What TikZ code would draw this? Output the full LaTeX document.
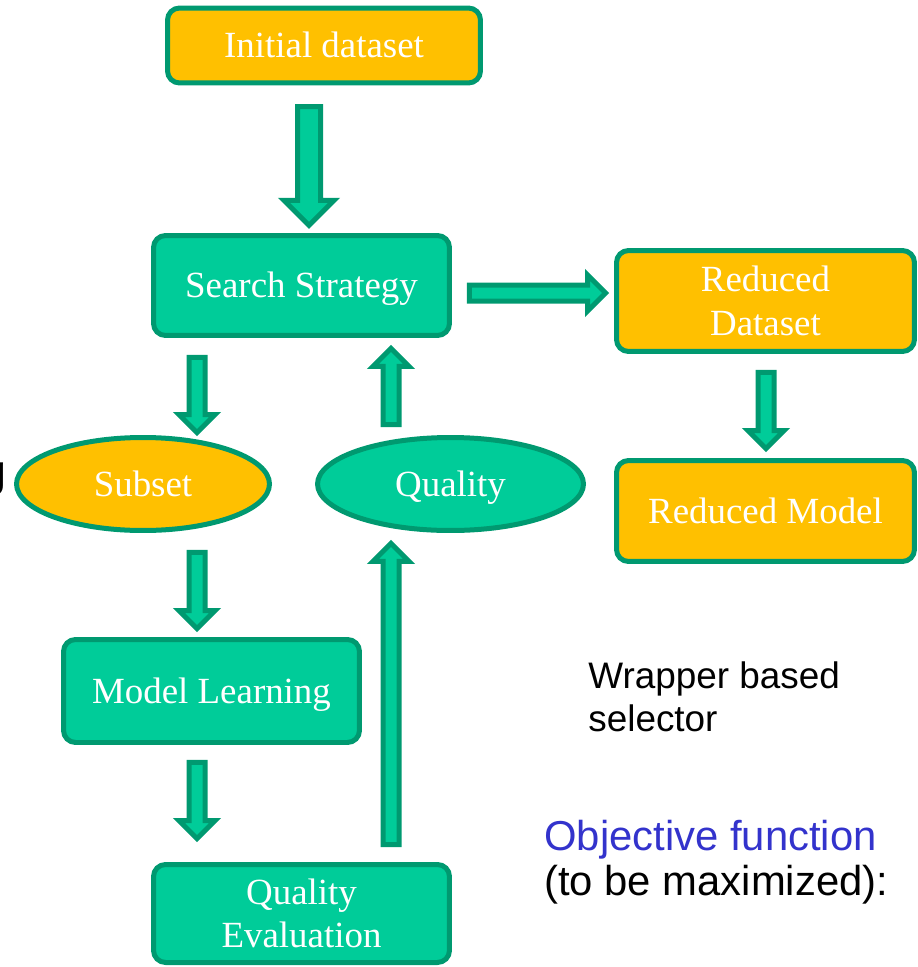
\documentclass[tikz,border=0pt]{standalone}
\usepackage{fontspec}
\setmainfont{Liberation Serif}
\setsansfont{Liberation Sans}
\usetikzlibrary{%
  shapes.geometric,% wg. ellipse
  shapes.arrows,%
  calc%
}

\definecolor{boxgold}{RGB}{255,192,0}
\definecolor{boxgreen}{RGB}{0,204,153}
\definecolor{edgegreen}{RGB}{0,153,112}
\definecolor{objblue}{RGB}{51,51,204}

\newcommand{\blockflow}[3][thinflow]{%
  \path let \p1=#2, \p2=#3, \n1={veclen(\x2-\x1,\y2-\y1)} in
    (\p1) -- (\p2) node[midway, sloped, allow upside down, #1, minimum height=\n1-2.8pt] {};}

\begin{document}
\begin{tikzpicture}
  [
  x=0.02cm, y=-0.02cm,
  box/.style={rectangle, rounded corners=0.24cm, draw=edgegreen, line width=0.1cm, text=white, align=center, inner sep=0pt, font=\fontsize{21pt}{24.7pt}\selectfont, text height=18.7pt, text depth=4.6pt},
  twolines/.style={text height=43.4pt},
  goldbox/.style={box, fill=boxgold},
  greenbox/.style={box, fill=boxgreen},
  oval/.style={ellipse, draw=edgegreen, line width=0.1cm, text=white, inner sep=0pt, font=\fontsize{21pt}{24.7pt}\selectfont, text height=18.7pt, text depth=4.6pt},
  thinflow/.style={single arrow, draw=edgegreen, fill=boxgreen, line width=0.1cm, inner xsep=0pt, inner ysep=0.11cm, single arrow head extend=0.2cm, outer sep=0pt},
  bigflow/.style={thinflow, inner ysep=0.18cm, single arrow head extend=0.27cm},
  note/.style={align=left, inner sep=0pt, font=\sffamily\fontsize{21pt}{24.4pt}\selectfont}
  ]
  \useasboundingbox (0,0) rectangle (918,967);

  \node[goldbox, minimum width=6.26cm, minimum height=1.5cm] (init) at (324,45.5) {Initial dataset};
  \node[greenbox, minimum width=5.92cm, minimum height=2cm] (search) at (301.5,285.5) {Search Strategy};
  \node[goldbox, twolines, minimum width=5.96cm, minimum height=2.02cm] (rdata) at (765.5,301) {Reduced\\Dataset};
  \node[goldbox, minimum width=5.96cm, minimum height=2.02cm] (rmodel) at (765.5,511) {Reduced Model};
  \node[oval, fill=boxgold, minimum width=5.06cm, minimum height=1.86cm] (subset) at (143,484) {Subset};
  \node[oval, fill=boxgreen, minimum width=5.32cm, minimum height=1.86cm] (quality) at (450.5,484) {Quality};
  \node[greenbox, minimum width=5.92cm, minimum height=2.06cm] (learn) at (211.5,691) {Model Learning};
  \node[greenbox, twolines, minimum width=5.92cm, minimum height=1.96cm] (qeval) at (301.5,913.5) {Quality\\Evaluation};

  \blockflow[bigflow]{([shift={(-15,13)}]init.south)}{([shift={(7.5,-11)}]search.north)}
  \blockflow{([shift={(-104.5,13)}]search.south)}{([shift={(54,-4)}]subset.north)}
  \blockflow{([shift={(54,13)}]subset.south)}{([shift={(-14.5,-10)}]learn.north)}
  \blockflow{([shift={(-14.5,11)}]learn.south)}{([shift={(-104.5,-25)}]qeval.north)}
  \blockflow{([shift={(89.5,-11)}]qeval.north)}{([shift={(-59.5,12)}]quality.south)}
  \blockflow{([shift={(-59.5,-4)}]quality.north)}{([shift={(89.5,12)}]search.south)}
  \blockflow{([shift={(11,7.5)}]search.east)}{([shift={(-10,-8)}]rdata.west)}
  \blockflow{([shift={(0.5,12)}]rdata.south)}{([shift={(0.5,-11)}]rmodel.north)}

  \node[note, anchor=base east, font=\sffamily\fontsize{25.5pt}{28pt}\selectfont] (cutoff) at (7,486) {g};
  \node[note, anchor=base west] (wrapper) at (588,731) {Wrapper based\\selector};
  \node[note, anchor=base west, font=\sffamily\fontsize{23.8pt}{25.5pt}\selectfont] (objective) at (544,895) {\textcolor{objblue}{Objective function}\\(to be maximized):};
\end{tikzpicture}
\end{document}
